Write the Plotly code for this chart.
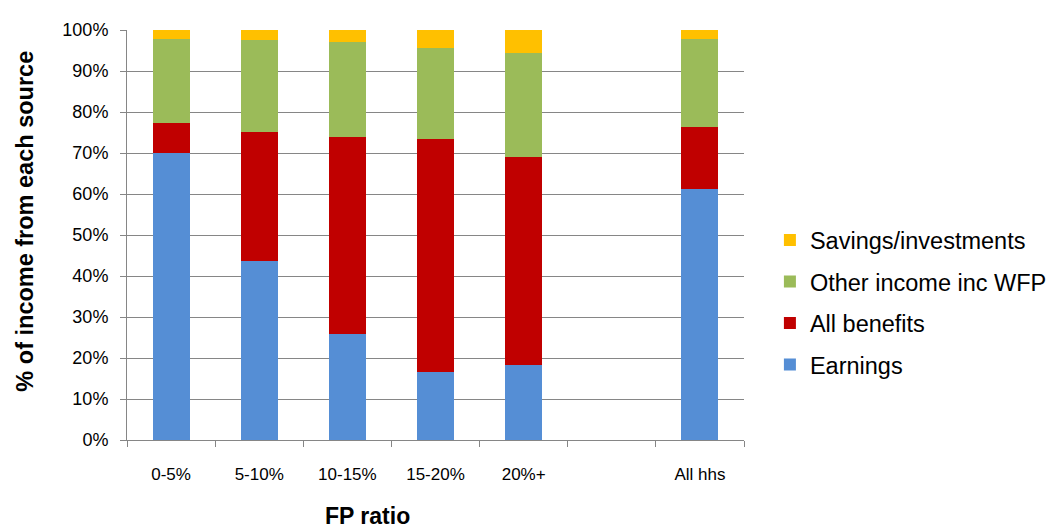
import plotly.graph_objects as go

categories = ["0-5%", "5-10%", "10-15%", "15-20%", "20%+", " ", "All hhs"]
earnings = [70.0, 43.7, 25.8, 16.7, 18.4, None, 61.3]
benefits = [7.2, 31.5, 48.2, 56.6, 50.6, None, 15.1]
other_income = [20.6, 22.4, 23.1, 22.4, 25.5, None, 21.4]
savings = [2.2, 2.4, 2.9, 4.3, 5.5, None, 2.2]

series = [
    ("Earnings", earnings, "#558ED5"),
    ("All benefits", benefits, "#C00000"),
    ("Other income inc WFP", other_income, "#9BBB59"),
    ("Savings/investments", savings, "#FFC000"),
]

fig = go.Figure()
for i, (name, vals, color) in enumerate(series):
    fig.add_trace(go.Bar(
        x=categories, y=[v / 100 if v is not None else None for v in vals],
        name=name, marker=dict(color=color, line=dict(width=0)),
        legendgroup=f"g{i}", legendrank=100 - i,
    ))

font = "Liberation Sans, Arial, sans-serif"
fig.update_layout(
    barmode="stack",
    bargap=0.58,
    width=1056, height=532,
    margin=dict(l=119, r=310, t=16, b=100),
    plot_bgcolor="white", paper_bgcolor="white",
    font=dict(family=font, size=17, color="#000000"),
    showlegend=True,
    legend=dict(
        traceorder="grouped", tracegroupgap=8,
        x=1.042, xanchor="left", y=0.335, yanchor="middle",
        font=dict(size=23.5), itemwidth=30,
    ),
    xaxis=dict(
        type="category", tickson="boundaries", ticks="outside", ticklen=6,
        tickcolor="#868686", showline=True, linecolor="#868686", linewidth=1,
        tickfont=dict(size=17), showgrid=False, ticklabelstandoff=19,
    ),
    yaxis=dict(
        range=[0, 1], tickformat=".0%", dtick=0.1, ticks="outside", ticklen=6,
        tickcolor="#868686", showline=True, linecolor="#868686", linewidth=1,
        gridcolor="#868686", gridwidth=1, tickfont=dict(size=18),
        ticklabelstandoff=8, zeroline=False,
    ),
    annotations=[
        dict(
            text="<b>FP ratio</b>", xref="paper", yref="paper",
            x=0.389, y=-0.185, xanchor="center", yanchor="middle",
            showarrow=False, font=dict(size=23),
        ),
        dict(
            text="<b>% of income from each source</b>", xref="paper", yref="paper",
            x=-0.166, y=0.534, xanchor="center", yanchor="middle", textangle=-90,
            showarrow=False, font=dict(size=23.5),
        ),
    ],
)

fig.write_html("out.html")
